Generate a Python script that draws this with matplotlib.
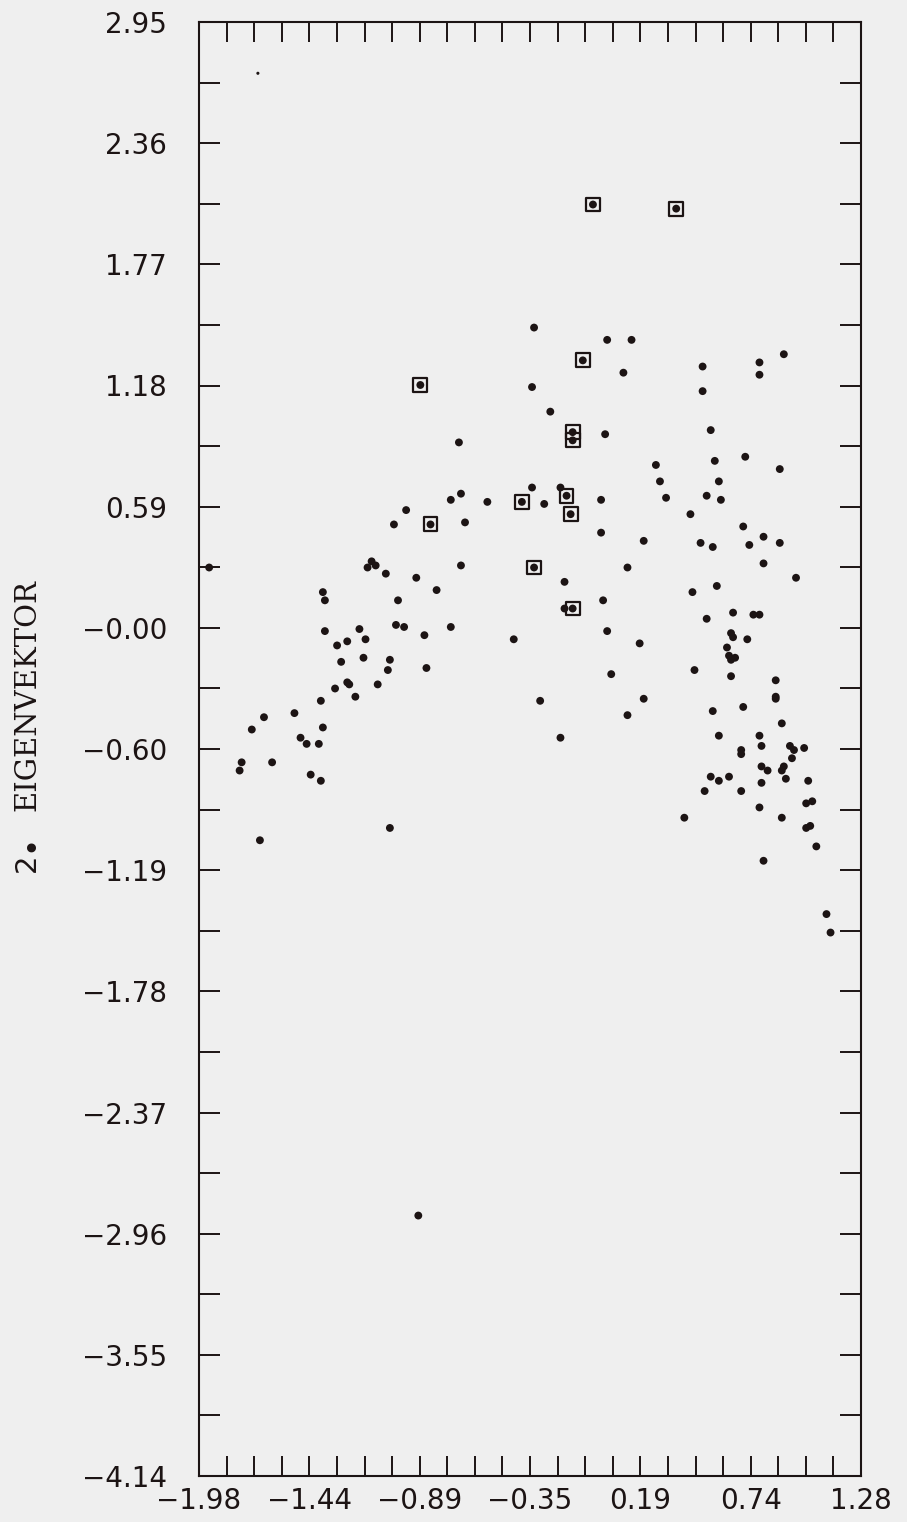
import numpy as np
import matplotlib
matplotlib.use("Agg")
import matplotlib.pyplot as plt

# ---------------- data ----------------
x_limits = (-1.98, 1.28)
y_limits = (-4.14, 2.95)
x_tick_labels = ["\u22121.98", "\u22121.44", "\u22120.89", "\u22120.35", "0.19", "0.74", "1.28"]
y_tick_labels = ["2.95", "2.36", "1.77", "1.18", "0.59", "\u22120.00", "\u22120.60",
                 "\u22121.19", "\u22121.78", "\u22122.37", "\u22122.96", "\u22123.55", "\u22124.14"]

# plain points (1st eigenvector, 2nd eigenvector)
dots_x = [-0.33, 0.03, 0.15, 0.11, 0.50, 0.78, 0.90, 0.78, 0.50, -0.34, -0.25, 0.02, 0.54,
          -0.70, -0.34, -0.74, -0.69, -0.56, -0.96, -1.02, -0.67, -1.93, -1.15, -1.13, -1.11,
          -1.06, -0.91, -0.69, -0.81, -1.37, -1.36, -1.00, -1.36, -1.19, -1.01, -0.97, -0.87,
          -0.74, -0.43, -1.30, -1.25, -1.16, -1.28, -1.17, -1.04, -1.05, -0.86, -1.31, -1.25,
          -1.24, -1.10, -1.38, -1.21,
          0.27, 0.56, 0.71, 0.88, 0.29, 0.58, -0.20, -0.28, 0.00, 0.32, 0.52, 0.59, 0.44,
          0.00, 0.21, 0.70, 0.49, 0.55, 0.73, 0.80, 0.88, 0.13, 0.80, 0.96, -0.18, 0.45,
          0.57, -0.18, 0.01, 0.52, 0.65, 0.75, 0.78, 0.03, 0.64, 0.65, 0.72, 0.19, 0.62,
          0.63, 0.66, 0.64, 0.05, 0.46, 0.64, 0.86, 0.86, 0.86, -0.30, 0.21,
          0.70, 0.55, 0.13, 0.89, -1.66, -1.72, -1.51, -1.37, -1.48, -1.45, -1.39, -0.20,
          0.58, 0.78, 0.79, 0.93, 0.95, 0.94, 1.00, 0.69, 0.69, -1.77, -1.78, -1.62, -1.43,
          -1.38, 0.79, 0.82, 0.90, 0.89, 0.91, 0.54, 0.58, 0.63, 0.79, 1.02, 0.51, 0.69,
          1.01, 1.04, 0.78, 0.89, 0.41, 1.01, 1.03, -1.04, -1.68, 1.06, 0.80, 1.11, 1.13,
          -0.90]
dots_y = [1.46, 1.40, 1.40, 1.24, 1.27, 1.29, 1.33, 1.23, 1.15, 1.17, 1.05, 0.94, 0.96,
          0.90, 0.68, 0.62, 0.65, 0.61, 0.57, 0.50, 0.51, 0.29, 0.29, 0.32, 0.30,
          0.26, 0.24, 0.30, 0.18, 0.17, 0.13, 0.13, -0.02, -0.01, 0.01, 0.00, -0.04,
          0.00, -0.06, -0.09, -0.07, -0.06, -0.17, -0.15, -0.16, -0.21, -0.20, -0.30, -0.27,
          -0.28, -0.28, -0.36, -0.34,
          0.79, 0.81, 0.83, 0.77, 0.71, 0.71, 0.68, 0.60, 0.62, 0.63, 0.64, 0.62, 0.55,
          0.46, 0.42, 0.49, 0.41, 0.39, 0.40, 0.44, 0.41, 0.29, 0.31, 0.24, 0.22, 0.17,
          0.20, 0.09, 0.13, 0.04, 0.07, 0.06, 0.06, -0.02, -0.03, -0.05, -0.06, -0.08, -0.10,
          -0.14, -0.15, -0.16, -0.23, -0.21, -0.24, -0.26, -0.34, -0.35, -0.36, -0.35,
          -0.39, -0.41, -0.43, -0.47, -0.44, -0.50, -0.42, -0.49, -0.54, -0.57, -0.57, -0.54,
          -0.53, -0.53, -0.58, -0.58, -0.60, -0.64, -0.59, -0.60, -0.62, -0.66, -0.70, -0.66, -0.72,
          -0.75, -0.68, -0.70, -0.68, -0.70, -0.74, -0.73, -0.75, -0.73, -0.76, -0.75, -0.80, -0.80,
          -0.86, -0.85, -0.88, -0.93, -0.93, -0.98, -0.97, -0.98, -1.04, -1.07, -1.14, -1.40, -1.49,
          -2.87]

# highlighted (boxed) points
boxed_x = [-0.04, 0.37, -0.09, -0.89, -0.14, -0.14, -0.17, -0.39, -0.15, -0.84, -0.33, -0.14]
boxed_y = [2.06, 2.04, 1.30, 1.18, 0.95, 0.91, 0.64, 0.61, 0.55, 0.50, 0.29, 0.09]

# faint isolated speck near the top left
speck_x = [-1.69]
speck_y = [2.70]

# ---------------- figure ----------------
W, H = 907, 1522
bg = "#efefef"
ink = "#1c1414"
fig = plt.figure(figsize=(W / 100, H / 100), dpi=100, facecolor=bg)
ax = fig.add_axes([199 / W, 1 - 1476 / H, (861 - 199) / W, (1476 - 22) / H])
ax.set_facecolor(bg)

ax.scatter(dots_x, dots_y, s=32, color=ink, edgecolors="none", zorder=3)
ax.scatter(boxed_x, boxed_y, s=32, color=ink, edgecolors="none", zorder=3)
ax.scatter(boxed_x, boxed_y, s=100, marker="s", facecolors="none", edgecolors=ink,
           linewidths=1.6, zorder=4)
ax.scatter(speck_x, speck_y, s=5, color=ink, edgecolors="none", zorder=3)

ax.set_xlim(*x_limits)
ax.set_ylim(*y_limits)

xt = np.linspace(x_limits[0], x_limits[1], 25)
yt = np.linspace(y_limits[0], y_limits[1], 25)
ax.set_xticks(xt)
ax.set_xticklabels([x_tick_labels[i // 4] if i % 4 == 0 else "" for i in range(25)])
ax.set_yticks(yt)
ylabs_bottom_up = y_tick_labels[::-1]
ax.set_yticklabels([ylabs_bottom_up[i // 2] if i % 2 == 0 else "" for i in range(25)])

ax.tick_params(axis="x", which="both", direction="in", length=14.5, width=1.4,
               top=True, bottom=True, pad=8, labelsize=20, colors=ink)
ax.tick_params(axis="y", which="both", direction="in", length=15, width=1.4,
               left=True, right=True, pad=23, labelsize=20, colors=ink)
for lab in ax.get_xticklabels() + ax.get_yticklabels():
    lab.set_family("DejaVu Sans")

for sp in ax.spines.values():
    sp.set_linewidth(1.5)
    sp.set_color(ink)

fig.text(27 / W, 1 - 695 / H, "EIGENVEKTOR", rotation=90, ha="center", va="center",
         family="DejaVu Serif", fontsize=21, color=ink)
fig.text(27 / W, 1 - 863 / H, "2", rotation=90, ha="center", va="center",
         family="DejaVu Sans", fontsize=21, color=ink)
fig.text(31 / W, 1 - 843 / H, "\u2022", rotation=90, ha="center", va="center",
         family="DejaVu Sans", fontsize=22, color=ink)

fig.savefig("out.png", dpi=100, facecolor=bg)
